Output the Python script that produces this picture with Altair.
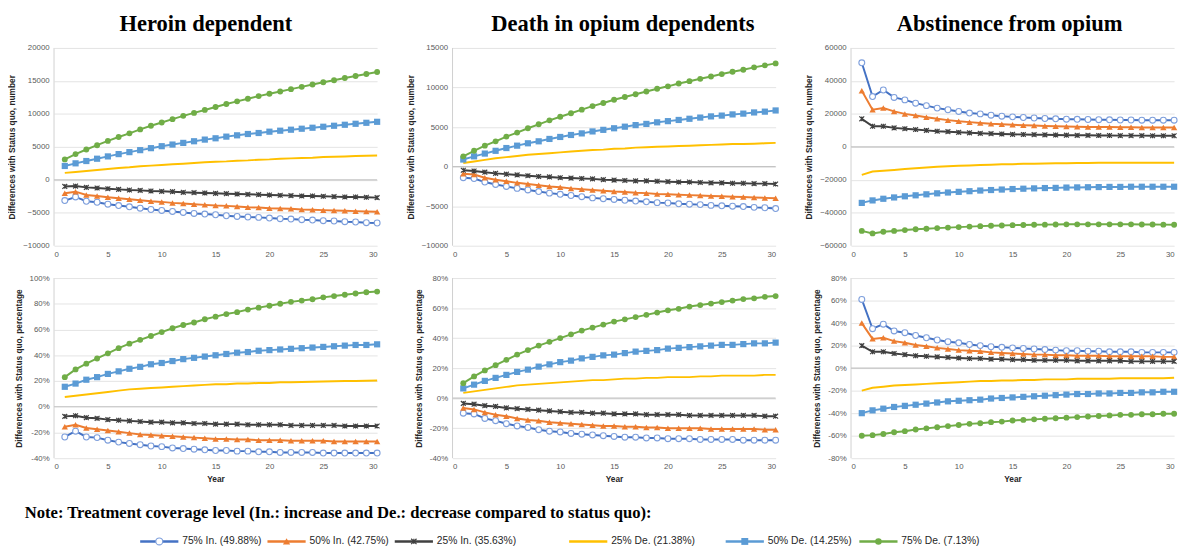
import altair as alt
import pandas as pd

years = list(range(1, 31))
series_names = ["75% In. (49.88%)", "50% In. (42.75%)", "25% In. (35.63%)",
                "25% De. (21.38%)", "50% De. (14.25%)", "75% De. (7.13%)"]
colors = ["#4472C4", "#ED7D31", "#404040", "#FFC000", "#5B9BD5", "#70AD47"]
panel_titles = ["Heroin dependent", "Death in opium dependents", "Abstinence from opium"]
note_text = "Note: Treatment coverage level (In.: increase and De.: decrease compared to status quo):"

# ---------------- Heroin dependent, number ----------------
hd_num_in75 = [-3150, -2600, -3250, -3400, -3700, -3900, -4100, -4300, -4500, -4650, -4800, -4950, -5100, -5200, -5300,
               -5450, -5550, -5650, -5700, -5800, -5900, -5950, -6050, -6100, -6200, -6250, -6350, -6400, -6500, -6550]
hd_num_in50 = [-2050, -1800, -2300, -2450, -2650, -2800, -2950, -3100, -3250, -3350, -3500, -3600, -3700, -3800, -3900,
               -3950, -4050, -4150, -4200, -4300, -4350, -4400, -4500, -4550, -4600, -4650, -4700, -4750, -4800, -4850]
hd_num_in25 = [-1000, -950, -1150, -1250, -1350, -1450, -1550, -1600, -1700, -1750, -1800, -1900, -1950, -2000, -2050,
               -2100, -2150, -2200, -2250, -2300, -2350, -2400, -2450, -2450, -2500, -2550, -2600, -2600, -2650, -2700]
hd_num_de25 = [1050, 1200, 1350, 1500, 1650, 1800, 1900, 2050, 2150, 2250, 2350, 2450, 2550, 2650, 2750,
               2800, 2900, 2950, 3050, 3100, 3200, 3250, 3300, 3350, 3450, 3500, 3550, 3600, 3650, 3700]
hd_num_de50 = [2100, 2500, 2850, 3200, 3550, 3900, 4200, 4500, 4800, 5100, 5350, 5600, 5850, 6100, 6300,
               6550, 6750, 6950, 7100, 7300, 7450, 7600, 7750, 7900, 8050, 8200, 8350, 8500, 8650, 8800]
hd_num_de75 = [3100, 3900, 4600, 5250, 5900, 6500, 7050, 7650, 8200, 8700, 9200, 9700, 10150, 10600, 11050,
               11500, 11900, 12300, 12700, 13050, 13400, 13750, 14100, 14450, 14800, 15100, 15450, 15750, 16050, 16350]

# ---------------- Death in opium dependents, number ----------------
dd_num_in75 = [-1400, -1500, -1950, -2250, -2500, -2750, -2950, -3150, -3350, -3500, -3650, -3800, -3950, -4050, -4150,
               -4250, -4350, -4450, -4550, -4600, -4700, -4750, -4800, -4900, -4950, -5000, -5050, -5150, -5200, -5300]
dd_num_in50 = [-900, -1000, -1400, -1650, -1850, -2050, -2200, -2350, -2500, -2600, -2750, -2850, -2950, -3050, -3150,
               -3200, -3300, -3350, -3450, -3500, -3550, -3600, -3650, -3700, -3750, -3800, -3850, -3900, -3950, -4000]
dd_num_in25 = [-450, -550, -700, -850, -950, -1050, -1150, -1250, -1300, -1400, -1450, -1500, -1550, -1650, -1700,
               -1750, -1800, -1800, -1850, -1900, -1950, -1950, -2000, -2050, -2050, -2100, -2100, -2150, -2150, -2200]
dd_num_de25 = [450, 650, 850, 1050, 1200, 1350, 1500, 1600, 1700, 1800, 1900, 2000, 2100, 2150, 2250,
               2300, 2400, 2450, 2500, 2550, 2600, 2650, 2700, 2750, 2800, 2850, 2850, 2900, 2950, 3000]
dd_num_de50 = [900, 1300, 1650, 2000, 2350, 2650, 2950, 3200, 3500, 3750, 4000, 4200, 4450, 4650, 4850,
               5050, 5250, 5400, 5600, 5750, 5900, 6050, 6200, 6350, 6450, 6600, 6700, 6850, 6950, 7100]
dd_num_de75 = [1300, 2000, 2650, 3200, 3800, 4300, 4850, 5350, 5850, 6300, 6750, 7200, 7650, 8050, 8450,
               8800, 9150, 9500, 9850, 10150, 10500, 10800, 11100, 11400, 11700, 12000, 12250, 12550, 12800, 13050]

# ---------------- Abstinence from opium, number ----------------
ab_num_in75 = [51000, 30500, 34500, 30000, 28500, 26500, 25000, 23500, 22500, 21500, 20500, 20000, 19200, 18600, 18200,
               17800, 17500, 17200, 17000, 16800, 16700, 16600, 16500, 16400, 16300, 16300, 16200, 16200, 16200, 16200]
ab_num_in50 = [34000, 22500, 23500, 21500, 20000, 19000, 18000, 17000, 16200, 15500, 15000, 14500, 14000, 13700, 13400,
               13100, 12900, 12700, 12500, 12400, 12200, 12100, 12000, 12000, 11900, 11900, 11800, 11800, 11800, 11800]
ab_num_in25 = [17000, 12500, 12500, 11500, 11000, 10500, 10000, 9500, 9200, 8800, 8500, 8200, 8000, 7800, 7600,
               7500, 7400, 7300, 7200, 7100, 7000, 7000, 6900, 6900, 6800, 6800, 6800, 6700, 6700, 6700]
ab_num_de25 = [-17000, -15000, -14500, -14000, -13500, -13000, -12500, -12100, -11800, -11500, -11300, -11000, -10800,
               -10600, -10500, -10300, -10200, -10100, -10000, -9900, -9800, -9800, -9700, -9700, -9700, -9600, -9600,
               -9600, -9600, -9600]
ab_num_de50 = [-34000, -32500, -31500, -30700, -30000, -29400, -28800, -28200, -27700, -27300, -26900, -26500, -26200,
               -25900, -25600, -25400, -25200, -25000, -24900, -24700, -24600, -24500, -24400, -24300, -24300, -24200,
               -24200, -24200, -24200, -24200]
ab_num_de75 = [-51000, -52500, -51500, -51000, -50500, -50000, -49700, -49300, -49000, -48700, -48400, -48100, -47900,
               -47700, -47500, -47400, -47300, -47200, -47100, -47000, -47000, -47000, -47000, -47000, -47000, -47000,
               -47100, -47100, -47200, -47300]

# ---------------- Heroin dependent, percentage ----------------
hd_pct_in75 = [-23.5, -19, -23.5, -24, -26, -27.5, -28.5, -29.5, -30.5, -31, -32, -32.5, -33, -33.5, -34,
               -34, -34.5, -34.5, -35, -35, -35.5, -35.5, -35.5, -35.5, -36, -36, -36, -36, -36, -36]
hd_pct_in50 = [-15.5, -14, -16.5, -17.5, -18.5, -19.5, -20.5, -21.5, -22, -22.5, -23, -23.5, -24, -24.5, -25,
               -25, -25.5, -25.5, -26, -26, -26, -26.5, -26.5, -26.5, -26.5, -27, -27, -27, -27, -27]
hd_pct_in25 = [-7.5, -7, -8.5, -9, -10, -10.5, -11, -11.5, -12, -12, -12.5, -12.5, -13, -13, -13.5,
               -13.5, -13.5, -14, -14, -14, -14, -14.5, -14.5, -14.5, -14.5, -14.5, -15, -15, -15, -15]
hd_pct_de25 = [7.5, 8.5, 9.5, 10.5, 11.5, 12.5, 13.5, 14, 14.5, 15, 15.5, 16, 16.5, 17, 17.5,
               17.5, 18, 18, 18.5, 18.5, 19, 19, 19.2, 19.4, 19.6, 19.8, 20, 20, 20.2, 20.4]
hd_pct_de50 = [15.5, 18, 21, 23, 25.5, 27.5, 29.5, 31, 33, 34, 35.5, 37, 38, 39, 40,
               41, 42, 42.5, 43.5, 44, 44.5, 45, 45.5, 46, 46.5, 47, 47.5, 48, 48, 48.5]
hd_pct_de75 = [23, 29, 33.5, 37.5, 41.5, 45.5, 49, 52, 55, 58, 61, 63.5, 65.5, 68, 70,
               72, 73.5, 75.5, 77, 78.5, 80, 81.5, 82.5, 83.5, 85, 86, 87, 88, 89, 89.5]

# ---------------- Death in opium dependents, percentage ----------------
dd_pct_in75 = [-10, -10.5, -13.5, -15, -17, -18.5, -19.5, -21, -22, -22.5, -23.5, -24, -24.5, -25, -25.5,
               -26, -26, -26.5, -26.5, -27, -27, -27, -27.5, -27.5, -27.5, -27.5, -28, -28, -28, -28]
dd_pct_in50 = [-6.5, -7.5, -9.5, -11, -12, -13.5, -14.5, -15, -16, -16.5, -17, -17.5, -18, -18.5, -18.5,
               -19, -19, -19.5, -19.5, -20, -20, -20, -20, -20.5, -20.5, -20.5, -20.5, -20.5, -21, -21]
dd_pct_in25 = [-3.5, -4, -5, -5.5, -6.5, -7, -7.5, -8, -8.5, -9, -9.5, -9.5, -10, -10, -10.5,
               -10.5, -10.5, -11, -11, -11, -11, -11.5, -11.5, -11.5, -11.5, -11.5, -11.5, -11.5, -12, -12]
dd_pct_de25 = [3.5, 4.5, 5.5, 6.5, 7.5, 8.5, 9, 9.5, 10, 10.5, 11, 11.5, 12, 12, 12.5,
               13, 13, 13.5, 13.5, 14, 14, 14, 14.5, 14.5, 15, 15, 15, 15, 15.5, 15.5]
dd_pct_de50 = [6.5, 9, 11.5, 13.5, 15.5, 17.5, 19, 21, 22.5, 24, 25, 26.5, 27.5, 28.5, 29,
               30, 31, 31.5, 32, 33, 33.5, 34, 34.5, 35, 35.5, 35.5, 36, 36.5, 36.5, 37]
dd_pct_de75 = [10, 14.5, 18.5, 22, 25.5, 29, 32, 35, 37.5, 40, 42.5, 45, 47, 49, 51,
               52.5, 54, 55.5, 57, 58.5, 59.5, 61, 62, 63, 64, 65, 66, 66.5, 67.5, 68]

# ---------------- Abstinence from opium, percentage ----------------
ab_pct_in75 = [61, 35, 39, 33, 31.5, 29, 27, 25, 23.5, 22.5, 21, 20, 19, 18.5, 18,
               17.5, 17, 16.5, 16, 15.5, 15.5, 15, 15, 14.5, 14.5, 14.5, 14, 14, 14, 14]
ab_pct_in50 = [40, 26, 27, 24, 22.5, 20.5, 19.5, 18, 17, 16, 15.5, 15, 14, 13.5, 13,
               12.5, 12, 12, 11.5, 11.5, 11, 11, 11, 10.5, 10.5, 10.5, 10.5, 10.5, 10, 10]
ab_pct_in25 = [20, 14.5, 14.5, 13, 12, 11, 10.5, 10, 9.5, 9, 8.5, 8.5, 8, 8, 7.5,
               7.5, 7, 7, 7, 7, 6.5, 6.5, 6.5, 6.5, 6.5, 6, 6, 6, 6, 6]
ab_pct_de25 = [-20, -17.5, -16.5, -15.5, -15, -14.5, -14, -13.5, -13, -12.5, -12, -11.5, -11.5, -11, -11,
               -10.5, -10.5, -10, -10, -10, -9.5, -9.5, -9.5, -9.5, -9, -9, -9, -9, -9, -8.5]
ab_pct_de50 = [-40, -37.5, -36, -34.5, -33.5, -32.5, -31.5, -30.5, -29.5, -29, -28.5, -28, -27, -26.5, -26,
               -25.5, -25, -24.5, -24, -23.5, -23, -23, -22.5, -22.5, -22, -22, -21.5, -21.5, -21, -21]
ab_pct_de75 = [-60, -59.5, -58.5, -57, -56, -54.5, -53.5, -52.5, -51.5, -50.5, -49.5, -49, -48, -47.5, -46.5,
               -46, -45.5, -45, -44.5, -44, -43.5, -43, -42.5, -42, -41.5, -41.5, -41, -41, -40.5, -40.5]

LABEL_FONT = "Liberation Sans"
SERIF = "Liberation Serif"
PW = 330
STAR = "M-1,-1L1,1M-1,1L1,-1M0,-1L0,1"

color_scale = alt.Scale(domain=series_names, range=colors)


def marker_layers(base, xf, yf):
    """Point layers for the five series that carry markers."""
    return [
        base.transform_filter(alt.datum.series == series_names[0]).mark_point(
            shape="circle", fill="white", fillOpacity=1, stroke="#7e9fdc", strokeWidth=1.1, size=36, opacity=1
        ).encode(x=xf, y=yf),
        base.transform_filter(alt.datum.series == series_names[1]).mark_point(
            shape="triangle-up", filled=True, color=colors[1], size=42, opacity=1
        ).encode(x=xf, y=yf),
        base.transform_filter(alt.datum.series == series_names[2]).mark_point(
            shape=STAR, filled=False, color=colors[2], strokeWidth=1.2, size=24, opacity=1
        ).encode(x=xf, y=yf),
        base.transform_filter(alt.datum.series == series_names[4]).mark_point(
            shape="square", filled=True, color=colors[4], size=40, opacity=1
        ).encode(x=xf, y=yf),
        base.transform_filter(alt.datum.series == series_names[5]).mark_point(
            shape="circle", filled=True, color=colors[5], size=36, opacity=1
        ).encode(x=xf, y=yf),
    ]


def panel(series_vals, ymin, ymax, step, ytitle, pct, height, title=None, title_dx=0, year_title=False):
    rows = []
    for name, arr in zip(series_names, series_vals):
        for yr, v in zip(years, arr):
            rows.append({"year": yr, "value": v, "series": name})
    df = pd.DataFrame(rows)
    base = alt.Chart(df)
    x_axis = alt.Axis(values=list(range(0, 31, 5)), grid=False, domain=False, ticks=False,
                      labelPadding=5, title="Year" if year_title else "", titlePadding=4,
                      labelOverlap=False)
    ax_kwargs = dict(values=list(range(ymin, ymax + 1, step)), title=ytitle, grid=True,
                     gridColor="#e3e3e3", domain=False, ticks=False, labelPadding=5, titlePadding=6,
                     labelOverlap=False)
    if pct:
        ax_kwargs["labelExpr"] = "datum.value + '%'"
    else:
        ax_kwargs["format"] = "d"
    xf = alt.X("year:Q", scale=alt.Scale(domain=[0, 30], nice=False), axis=x_axis)
    yf = alt.Y("value:Q", scale=alt.Scale(domain=[ymin, ymax], nice=False), axis=alt.Axis(**ax_kwargs))

    left_line = alt.Chart(pd.DataFrame({"year": [0]})).mark_rule(color="#d0d0d0", strokeWidth=1).encode(x=xf)
    zero_line = alt.Chart(pd.DataFrame({"value": [0]})).mark_rule(color="#c4c4c4", strokeWidth=1.2).encode(y=yf)
    lines = base.mark_line(strokeWidth=2).encode(
        x=xf, y=yf,
        color=alt.Color("series:N", scale=color_scale, legend=None),
        detail="series:N",
    )
    ch = alt.layer(left_line, zero_line, lines, *marker_layers(base, xf, yf)).properties(width=PW, height=height)
    if title:
        ch = ch.properties(title=alt.Title(title, font=SERIF, fontSize=23, fontWeight="bold", color="black",
                                           anchor="middle", frame="group", offset=8, dx=title_dx))
    return ch


TOP_H = 202
BOT_H = 184

p1 = panel([hd_num_in75, hd_num_in50, hd_num_in25, hd_num_de25, hd_num_de50, hd_num_de75],
           -10000, 20000, 5000, "Differences with Status quo, number", False, TOP_H, panel_titles[0], -10)
p2 = panel([dd_num_in75, dd_num_in50, dd_num_in25, dd_num_de25, dd_num_de50, dd_num_de75],
           -10000, 15000, 5000, "Differences with Status quo, number", False, TOP_H, panel_titles[1], 9)
p3 = panel([ab_num_in75, ab_num_in50, ab_num_in25, ab_num_de25, ab_num_de50, ab_num_de75],
           -60000, 60000, 20000, "Differences with Status quo, number", False, TOP_H, panel_titles[2], -3)
p4 = panel([hd_pct_in75, hd_pct_in50, hd_pct_in25, hd_pct_de25, hd_pct_de50, hd_pct_de75],
           -40, 100, 20, "Differences with Status quo, percentage", True, BOT_H, None, 0, True)
p5 = panel([dd_pct_in75, dd_pct_in50, dd_pct_in25, dd_pct_de25, dd_pct_de50, dd_pct_de75],
           -40, 80, 20, "Differences with Status quo, percentage", True, BOT_H, None, 0, True)
p6 = panel([ab_pct_in75, ab_pct_in50, ab_pct_in25, ab_pct_de25, ab_pct_de50, ab_pct_de75],
           -80, 80, 20, "Differences with Status quo, percentage", True, BOT_H, None, 0, True)

grid = alt.concat(p1, p2, p3, p4, p5, p6, columns=3, spacing={"row": 16, "column": 24})

# ---------------- custom legend ----------------
leg_df = pd.DataFrame({"series": series_names, "idx": list(range(len(series_names)))})
LW = 1120
LH = 8
leg_base = alt.Chart(leg_df).transform_calculate(
    pos="datum.idx + (datum.idx >= 3 ? 0.37 : 0) + (datum.idx >= 4 ? 0.23 : 0) + (datum.idx >= 5 ? 0.05 : 0)",
).transform_calculate(
    end="datum.pos + 0.3", mid="datum.pos + 0.15", tx="datum.pos + 0.33"
)
lx = alt.Scale(domain=[-88 / 130.0, -88 / 130.0 + LW / 130.0], nice=False, zero=False)
yc = alt.value(LH / 2)
leg_rule = leg_base.mark_rule(strokeWidth=2.5).encode(
    x=alt.X("pos:Q", scale=lx, axis=None), x2="end:Q", y=yc,
    color=alt.Color("series:N", scale=color_scale, legend=None))
leg_x = alt.X("mid:Q", scale=lx, axis=None)
leg_marks = [
    leg_base.transform_filter(alt.datum.series == series_names[0]).mark_point(
        shape="circle", fill="white", fillOpacity=1, stroke="#7e9fdc", strokeWidth=1.2, size=50, opacity=1
    ).encode(x=leg_x, y=yc),
    leg_base.transform_filter(alt.datum.series == series_names[1]).mark_point(
        shape="triangle-up", filled=True, color=colors[1], size=55, opacity=1
    ).encode(x=leg_x, y=yc),
    leg_base.transform_filter(alt.datum.series == series_names[2]).mark_point(
        shape=STAR, filled=False, color=colors[2], strokeWidth=1.2, size=30, opacity=1
    ).encode(x=leg_x, y=yc),
    leg_base.transform_filter(alt.datum.series == series_names[4]).mark_point(
        shape="square", filled=True, color=colors[4], size=50, opacity=1
    ).encode(x=leg_x, y=yc),
    leg_base.transform_filter(alt.datum.series == series_names[5]).mark_point(
        shape="circle", filled=True, color=colors[5], size=45, opacity=1
    ).encode(x=leg_x, y=yc),
]
leg_text = leg_base.mark_text(align="left", baseline="middle", font=LABEL_FONT, fontSize=10.5,
                              color="#262626").encode(
    x=alt.X("tx:Q", scale=lx, axis=None), y=yc, text="series:N")

legend_chart = alt.layer(leg_rule, *leg_marks, leg_text).properties(
    width=LW, height=LH,
    title=alt.Title(note_text, font=SERIF, fontSize=17, fontWeight="bold", color="black",
                    anchor="start", frame="group", dx=-30, offset=14),
)

chart = alt.vconcat(grid, legend_chart, spacing=21).properties(padding=0).configure_view(
    strokeWidth=0
).configure_axis(
    labelFont=LABEL_FONT, labelFontSize=8, labelColor="#595959",
    titleFont=LABEL_FONT, titleFontSize=8.5, titleFontWeight="bold", titleColor="#262626",
)

chart.save("out.html", embed_options={"renderer": "svg", "actions": False})
